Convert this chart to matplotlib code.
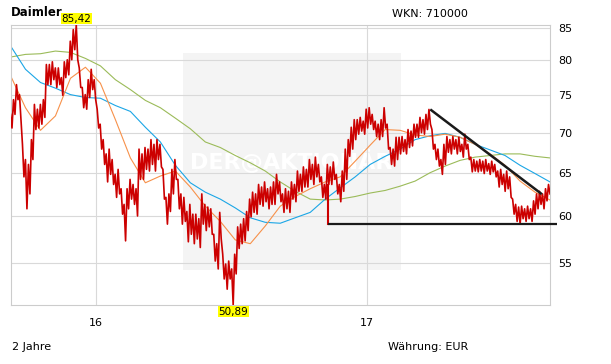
import numpy as np
import pandas as pd
import matplotlib
matplotlib.use("Agg")
import matplotlib.pyplot as plt
from matplotlib.patches import Rectangle

# Daimler, 2 Jahre: Hoch / Tief je ca. 4 Handelstage
start, end = "2015-09-07", "2017-09-06"
highs = [72.4, 74.4, 76.5, 75.1, 68.5, 66.6, 66.0, 69.1, 73.75, 73.1,
         73.75, 74.4, 79.4, 79.4, 79.8, 78.9, 78.9, 77.5, 79.8, 80.1,
         82.9, 84.7, 85.42, 78.9, 76.1, 75.1, 77.2, 78.7, 77.2, 73.1,
         71.1, 69.1, 67.3, 67.9, 66.6, 64.8, 65.4, 63.1, 61.3, 63.1,
         64.2, 63.6, 63.1, 67.9, 67.3, 68.1, 67.9, 69.1, 68.5, 69.1,
         68.5, 65.4, 62.1, 62.5, 65.4, 66.6, 64.2, 62.5, 62.1, 60.5,
         61.3, 60.2, 60.2, 59.7, 62.5, 61.3, 61.0, 60.8, 58.0, 57.0,
         60.4, 55.9, 54.9, 55.2, 54.4, 55.9, 58.8, 59.1, 59.7, 60.5,
         61.9, 62.7, 62.5, 63.6, 63.3, 63.9, 63.1, 63.3, 63.9, 64.8,
         63.9, 62.5, 63.1, 62.8, 63.9, 63.6, 65.2, 64.8, 65.7, 65.4,
         66.6, 66.0, 66.9, 66.0, 64.5, 63.6, 66.0, 65.7, 66.3, 64.8,
         63.6, 65.2, 67.9, 69.1, 70.7, 71.7, 71.7, 72.0, 71.5, 73.1,
         73.3, 72.4, 71.5, 71.1, 71.7, 73.3, 71.1, 68.1, 67.9, 69.4,
         69.4, 69.5, 69.1, 70.4, 70.2, 71.1, 71.1, 72.0, 71.7, 72.4,
         73.07, 70.4, 68.5, 67.9, 66.6, 68.5, 69.5, 69.1, 69.5, 69.1,
         69.4, 68.5, 69.8, 68.5, 66.9, 66.6, 66.4, 66.6, 66.4, 66.6,
         66.1, 66.4, 66.0, 65.2, 65.4, 64.8, 65.2, 64.5, 61.9, 61.3,
         61.0, 61.1, 60.8, 61.1, 60.8, 61.7, 62.5, 62.8, 62.5, 63.1,
         63.6]
lows = [70.6, 72.4, 74.4, 71.7, 64.5, 60.8, 62.5, 66.6, 70.4, 70.6,
        71.1, 72.0, 76.5, 76.5, 77.2, 76.1, 76.5, 75.0, 77.5, 77.9,
        80.1, 81.6, 80.1, 76.1, 73.3, 73.1, 74.7, 75.8, 74.4, 70.6,
        67.9, 66.0, 63.9, 64.8, 63.6, 62.1, 62.5, 60.2, 57.3, 60.8,
        61.9, 61.3, 60.0, 64.2, 64.2, 65.4, 65.2, 66.0, 65.2, 66.6,
        65.7, 61.9, 59.1, 60.5, 62.5, 64.2, 60.8, 59.1, 59.4, 57.2,
        58.0, 57.0, 57.5, 56.6, 59.1, 58.4, 58.8, 58.0, 55.2, 54.4,
        57.5, 53.4, 52.4, 53.4, 50.89, 53.9, 56.5, 57.0, 57.3, 58.4,
        59.9, 60.4, 60.2, 61.3, 61.1, 61.6, 60.8, 61.3, 61.3, 62.5,
        61.6, 60.4, 60.8, 60.4, 61.9, 61.6, 62.8, 62.8, 63.3, 63.3,
        64.2, 63.6, 64.5, 63.9, 62.1, 61.9, 63.6, 63.6, 64.2, 62.5,
        61.6, 62.8, 64.2, 67.0, 67.9, 69.1, 69.8, 70.2, 69.8, 70.6,
        71.1, 70.4, 69.5, 69.1, 69.5, 70.6, 67.9, 66.0, 65.8, 66.6,
        67.3, 67.6, 67.3, 68.1, 68.3, 69.4, 69.4, 70.0, 69.8, 70.4,
        71.1, 67.9, 66.6, 65.8, 64.8, 66.0, 67.5, 67.3, 67.9, 67.3,
        67.6, 66.9, 67.9, 66.6, 65.1, 65.2, 65.1, 65.2, 64.9, 65.2,
        64.8, 65.1, 64.5, 63.3, 63.6, 62.8, 63.1, 62.1, 60.2, 59.4,
        59.1, 59.7, 59.4, 59.7, 59.4, 60.2, 60.8, 61.3, 60.8, 61.7,
        62.5]

ma38 = [77.8, 73.3, 70.3, 72.2, 77.4, 79.0, 76.7, 71.7, 66.8, 63.8,
        64.6, 65.2, 63.3, 61.1, 59.4, 57.4, 57.0, 58.9, 61.1, 62.2,
        63.1, 63.9, 64.5, 66.4, 68.4, 70.4, 70.3, 69.7, 69.5, 69.8,
        69.4, 68.5, 67.3, 65.9, 64.0, 62.7, 61.8]
ma100 = [82.2, 78.7, 76.8, 76.0, 75.1, 74.7, 74.6, 73.6, 72.8, 70.7,
         68.8, 65.9, 63.8, 62.7, 61.9, 60.9, 59.8, 59.3, 59.2, 59.8,
         60.4, 61.9, 63.2, 64.5, 66.0, 67.0, 67.9, 69.1, 69.6, 69.9,
         69.4, 68.5, 67.8, 67.1, 65.9, 64.9, 63.9]
ma200 = [80.5, 80.9, 81.0, 81.4, 81.2, 80.3, 79.2, 77.2, 75.8, 74.3,
         73.3, 71.9, 70.5, 68.8, 68.1, 67.1, 66.2, 65.2, 63.9, 62.8,
         61.9, 61.8, 61.9, 62.2, 62.6, 62.9, 63.4, 64.0, 65.0, 65.8,
         66.5, 66.9, 67.1, 67.3, 67.3, 67.0, 66.8]

# eingezeichnete Linien
support_dates = ["2016-11-09", "2017-09-16"]
support_level = 59.11
trend_dates = ["2017-03-28", "2017-08-26"]
trend_prices = [73.07, 62.47]
drop_date, drop_top = "2016-11-09", 63.5

yticks = [55, 60, 65, 70, 75, 80, 85]
xticks = ["2016-01-01", "2017-01-01"]
xtick_labels = ["16", "17"]

# Kurslinie: Hoch und Tief abwechselnd
price_line = np.column_stack([highs, lows]).ravel()
line_dates = pd.date_range(start, end, periods=len(price_line))
ma_dates = pd.date_range(start, end, periods=len(ma38))

W, H = 611, 364
fig = plt.figure(figsize=(W / 100, H / 100), dpi=100)
ax = fig.add_axes([10.5 / W, 1 - 305 / H, (550 - 10.5) / W, 280 / H])

ax.set_yscale("log")
ax.set_ylim(min(lows), max(highs))
ax.set_xlim(line_dates[0], line_dates[-1])

# Wasserzeichen
ax.add_patch(Rectangle((0.32, 0.125), 0.403, 0.775, transform=ax.transAxes,
                       facecolor="#f4f4f4", edgecolor="none", zorder=0))
ax.text(0.52, 0.515, "DER@AKTIONÄR", transform=ax.transAxes, color="white",
        fontsize=16, fontweight="bold", ha="center", va="center", zorder=0.5)

ax.plot(ma_dates, ma200, color="#9bbb59", lw=0.8, zorder=2)
ax.plot(ma_dates, ma100, color="#1ba6e6", lw=0.8, zorder=2)
ax.plot(ma_dates, ma38, color="#f7914a", lw=0.8, zorder=2)
ax.plot(line_dates, price_line, color="#cc0000", lw=1.2, zorder=3)

ax.plot(pd.to_datetime([drop_date, drop_date]), [drop_top, support_level],
        color="#cc0000", lw=1.5, zorder=3)
ax.plot(pd.to_datetime(support_dates), [support_level] * 2, color="#1a1a1a",
        lw=1.6, zorder=4, clip_on=False, solid_capstyle="butt")
ax.plot(pd.to_datetime(trend_dates), trend_prices, color="#1a1a1a",
        lw=1.8, zorder=4, solid_capstyle="butt")

# Hoch / Tief
i_max, i_min = int(np.argmax(price_line)), int(np.argmin(price_line))
box = dict(boxstyle="square,pad=0.05", facecolor="#ffff00", edgecolor="none")
ax.annotate(f"{price_line[i_max]:.2f}".replace(".", ","),
            (line_dates[i_max], price_line[i_max]),
            xytext=(0, 4.5), textcoords="offset points", ha="center", va="center",
            fontsize=7.5, bbox=box, annotation_clip=False, zorder=5)
ax.annotate(f"{price_line[i_min]:.2f}".replace(".", ","),
            (line_dates[i_min], price_line[i_min]),
            xytext=(0, -5), textcoords="offset points", ha="center", va="center",
            fontsize=7.5, bbox=box, annotation_clip=False, zorder=5)

ax.set_yticks(yticks)
ax.set_yticklabels([str(v) for v in yticks])
ax.yaxis.set_minor_locator(matplotlib.ticker.NullLocator())
ax.yaxis.tick_right()
ax.set_xticks(pd.to_datetime(xticks))
ax.set_xticklabels(xtick_labels)
ax.tick_params(axis="y", length=0, pad=6, labelsize=8)
ax.tick_params(axis="x", length=0, pad=9, labelsize=8)
ax.grid(True, color="#d9d9d9", lw=0.8)
ax.set_axisbelow(True)
for s in ax.spines.values():
    s.set_color("#cccccc")
    s.set_linewidth(0.8)

fig.text(11 / W, 1 - 12 / H, "Daimler", fontsize=8.5, fontweight="bold", va="center")
fig.text(392 / W, 1 - 14 / H, "WKN: 710000", fontsize=8, va="center")
fig.text(12 / W, 1 - 347 / H, "2 Jahre", fontsize=8, va="center")
fig.text(388 / W, 1 - 347 / H, "Währung: EUR", fontsize=8, va="center")

fig.savefig("out.png", dpi=100, facecolor="white")
